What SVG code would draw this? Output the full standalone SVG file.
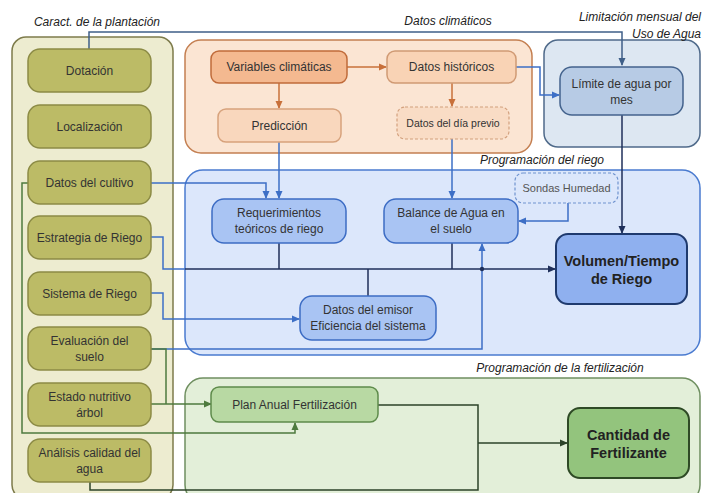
<svg xmlns="http://www.w3.org/2000/svg" width="703" height="493" viewBox="0 0 703 493">
<style>
text{font-family:"Liberation Sans",Arial,sans-serif;fill:#333;text-anchor:middle;}
.n{font-size:12px;}
.t{font-size:12px;font-style:italic;fill:#222;}
.b{font-size:14.5px;font-weight:bold;fill:#222;}
.c{fill:none;stroke-width:1.5;}
.olive{fill:#bcbb66;stroke:#8c8b45;stroke-width:1.5;}
.blue{fill:#a9c4f3;stroke:#3c6cc4;stroke-width:1.5;}
</style>
<defs>
<marker id="aBlue" markerWidth="8" markerHeight="8" refX="7" refY="4" orient="auto" markerUnits="userSpaceOnUse"><path d="M0,0.5 L8,4 L0,7.5z" fill="#3d6fc6"/></marker>
<marker id="aNavy" markerWidth="8" markerHeight="8" refX="7" refY="4" orient="auto" markerUnits="userSpaceOnUse"><path d="M0,0.5 L8,4 L0,7.5z" fill="#1f2f5a"/></marker>
<marker id="aOr" markerWidth="8" markerHeight="8" refX="7" refY="4" orient="auto" markerUnits="userSpaceOnUse"><path d="M0,0.5 L8,4 L0,7.5z" fill="#c8703a"/></marker>
<marker id="aGray" markerWidth="8" markerHeight="8" refX="7" refY="4" orient="auto" markerUnits="userSpaceOnUse"><path d="M0,0.5 L8,4 L0,7.5z" fill="#3f5f88"/></marker>
<marker id="aGreen" markerWidth="8" markerHeight="8" refX="7" refY="4" orient="auto" markerUnits="userSpaceOnUse"><path d="M0,0.5 L8,4 L0,7.5z" fill="#4e7a3e"/></marker>
<marker id="aDG" markerWidth="8" markerHeight="8" refX="7" refY="4" orient="auto" markerUnits="userSpaceOnUse"><path d="M0,0.5 L8,4 L0,7.5z" fill="#2c4328"/></marker>
</defs>
<rect width="703" height="493" fill="#ffffff"/>

<!-- Containers -->
<g id="grp-plantacion">
<rect x="12" y="37" width="161" height="462" rx="14" fill="#edecd0" stroke="#7d7b4b" stroke-width="1.5"/>
<text class="t" x="97" y="26">Caract. de la plantación</text>
</g>
<g id="grp-clima">
<rect x="185" y="40" width="347" height="113" rx="16" fill="#fbe5d3" stroke="#c47f51" stroke-width="1.5"/>
<text class="t" x="448" y="25">Datos climáticos</text>
</g>
<g id="grp-limitacion">
<rect x="544" y="40" width="156" height="107" rx="14" fill="#dde7f2" stroke="#4f6a8a" stroke-width="1.5"/>
<text class="t" x="701" y="21" style="text-anchor:end">Limitación mensual del</text>
<text class="t" x="701" y="38" style="text-anchor:end">Uso de Agua</text>
</g>
<g id="grp-riego">
<rect x="185" y="170" width="515" height="185" rx="18" fill="#dce7fb" stroke="#4a7bd0" stroke-width="1.5"/>
<text class="t" x="542" y="164">Programación del riego</text>
</g>
<g id="grp-fert">
<rect x="185" y="378" width="515" height="125" rx="18" fill="#e3efd9" stroke="#6f8f60" stroke-width="1.5"/>
<text class="t" x="560" y="372">Programación de la fertilización</text>
</g>

<!-- Connectors -->
<g id="connectors">
<path class="c" d="M89,49 V32 H622 V65" stroke="#3f5f88" marker-end="url(#aGray)"/>
<path class="c" d="M347,67 H386" stroke="#c8703a" marker-end="url(#aOr)"/>
<path class="c" d="M279,83 V108" stroke="#c8703a" marker-end="url(#aOr)"/>
<path class="c" d="M452,83 V106" stroke="#c8703a" marker-end="url(#aOr)"/>
<path class="c" d="M516,67 H540 V95 H559" stroke="#3d6fc6" marker-end="url(#aBlue)"/>
<path class="c" d="M279,142 V198" stroke="#3d6fc6" marker-end="url(#aBlue)"/>
<path class="c" d="M452,139 V198" stroke="#3d6fc6" marker-end="url(#aBlue)"/>
<path class="c" d="M151,183 H266 V198" stroke="#3d6fc6" marker-end="url(#aBlue)"/>
<path class="c" d="M568,203 V221 H519" stroke="#3d6fc6" marker-end="url(#aBlue)"/>
<path class="c" d="M151,237 H163 V269 H185" stroke="#3d6fc6"/>
<path class="c" d="M151,293 H163 V319 H299" stroke="#3d6fc6" marker-end="url(#aBlue)"/>
<path class="c" d="M151,349 H482 V244" stroke="#3d6fc6" marker-end="url(#aBlue)"/>
<path class="c" d="M185,269 H555" stroke="#1f2f5a" marker-end="url(#aNavy)"/>
<circle cx="482" cy="269" r="2.2" fill="#1f2f5a"/>
<path class="c" d="M279,243 V269 M452,243 V269 M368,296 V269" stroke="#1f2f5a"/>
<path class="c" d="M622,115 V233" stroke="#1f2f5a" marker-end="url(#aNavy)"/>
<path class="c" d="M28,183 H22 V433 H295 V423" stroke="#4e7a3e" marker-end="url(#aGreen)"/>
<path class="c" d="M151,349 H166 V404" stroke="#4e7a3e"/>
<path class="c" d="M151,404 H211" stroke="#4e7a3e" marker-end="url(#aGreen)"/>
<path class="c" d="M378,405 H478 V490 H90 V482" stroke="#2c4328"/>
<path class="c" d="M478,443 H567" stroke="#2c4328" marker-end="url(#aDG)"/>
</g>

<!-- Nodes -->
<g id="n-dotacion"><rect class="olive" x="28" y="49" width="123" height="43" rx="12"/><text class="n" x="89.5" y="75">Dotación</text></g>
<g id="n-localizacion"><rect class="olive" x="28" y="105" width="123" height="43" rx="12"/><text class="n" x="89.5" y="131">Localización</text></g>
<g id="n-cultivo"><rect class="olive" x="28" y="161" width="123" height="43" rx="12"/><text class="n" x="89.5" y="187">Datos del cultivo</text></g>
<g id="n-estrategia"><rect class="olive" x="28" y="216" width="123" height="43" rx="12"/><text class="n" x="89.5" y="242">Estrategia de Riego</text></g>
<g id="n-sistema"><rect class="olive" x="28" y="272" width="123" height="43" rx="12"/><text class="n" x="89.5" y="298">Sistema de Riego</text></g>
<g id="n-evaluacion"><rect class="olive" x="28" y="327" width="123" height="43" rx="12"/><text class="n" x="89.5" y="345">Evaluación del</text><text class="n" x="89.5" y="361">suelo</text></g>
<g id="n-estado"><rect class="olive" x="28" y="383" width="123" height="43" rx="12"/><text class="n" x="89.5" y="401">Estado nutritivo</text><text class="n" x="89.5" y="417">árbol</text></g>
<g id="n-analisis"><rect class="olive" x="28" y="439" width="123" height="43" rx="12"/><text class="n" x="89.5" y="457">Análisis calidad del</text><text class="n" x="89.5" y="473">agua</text></g>

<g id="n-variables"><rect x="211" y="51" width="136" height="32" rx="8" fill="#f4b990" stroke="#c06b3a" stroke-width="1.5"/><text class="n" x="279" y="71">Variables climáticas</text></g>
<g id="n-historicos"><rect x="387" y="51" width="129" height="32" rx="8" fill="#f9d3b5" stroke="#d09a74" stroke-width="1.5"/><text class="n" x="451.5" y="71">Datos históricos</text></g>
<g id="n-prediccion"><rect x="218" y="109" width="123" height="33" rx="8" fill="#f9d7bd" stroke="#d7a27c" stroke-width="1.5"/><text class="n" x="279.5" y="130">Predicción</text></g>
<g id="n-diaprevio"><rect x="397" y="107" width="112" height="32" rx="8" fill="#f9dcc5" stroke="#d2a07d" stroke-width="1.2" stroke-dasharray="3,2"/><text class="n" x="453" y="127" style="font-size:10.5px">Datos del día previo</text></g>

<g id="n-limite"><rect x="560" y="67" width="123" height="48" rx="12" fill="#b7cbe5" stroke="#44638d" stroke-width="1.5"/><text class="n" x="621.5" y="88">Límite de agua por</text><text class="n" x="621.5" y="104">mes</text></g>

<g id="n-sondas"><rect x="515" y="173" width="103" height="30" rx="8" fill="#dce7fb" stroke="#6f93cf" stroke-width="1.2" stroke-dasharray="3,2"/><text class="n" x="566.5" y="192" style="font-size:11px;fill:#555">Sondas Humedad</text></g>
<g id="n-requerimientos"><rect class="blue" x="212" y="199" width="134" height="44" rx="12"/><text class="n" x="279" y="217">Requerimientos</text><text class="n" x="279" y="233">teóricos de riego</text></g>
<g id="n-balance"><rect class="blue" x="384" y="199" width="134" height="44" rx="12"/><text class="n" x="451" y="217">Balance de Agua en</text><text class="n" x="451" y="233">el suelo</text></g>
<g id="n-emisor"><rect class="blue" x="300" y="296" width="136" height="44" rx="12"/><text class="n" x="368" y="314">Datos del emisor</text><text class="n" x="368" y="330">Eficiencia del sistema</text></g>
<g id="n-volumen"><rect x="556" y="234" width="131" height="70" rx="12" fill="#8fb0ef" stroke="#1f3a6e" stroke-width="2"/><text class="b" x="621.5" y="266">Volumen/Tiempo</text><text class="b" x="621.5" y="284">de Riego</text></g>

<g id="n-plan"><rect x="211" y="387" width="167" height="35" rx="8" fill="#b8d9a3" stroke="#5e8b4b" stroke-width="1.5"/><text class="n" x="294.5" y="409">Plan Anual Fertilización</text></g>
<g id="n-cantidad"><rect x="568" y="408" width="121" height="70" rx="12" fill="#93c47d" stroke="#2e4a25" stroke-width="2"/><text class="b" x="628.5" y="440">Cantidad de</text><text class="b" x="628.5" y="458">Fertilizante</text></g>
</svg>
